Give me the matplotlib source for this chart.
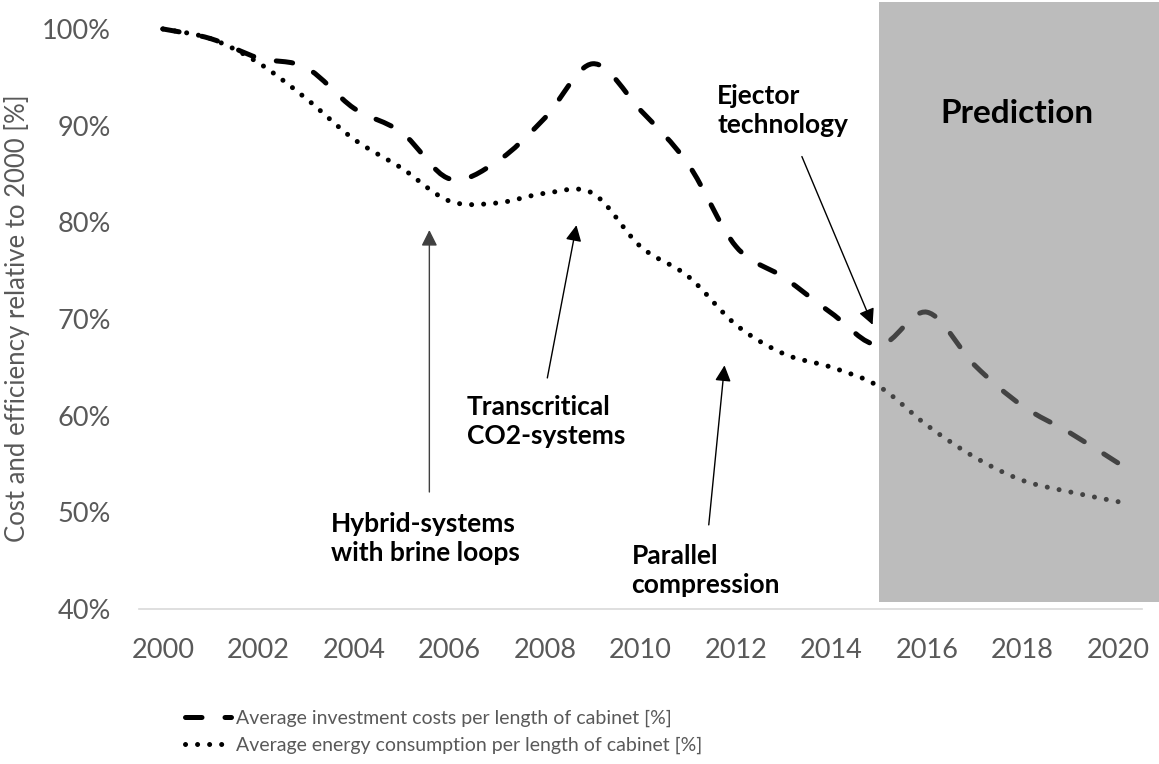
import numpy as np
import matplotlib
matplotlib.use('Agg')
import matplotlib.pyplot as plt
from matplotlib.path import Path
from matplotlib.patches import PathPatch, Rectangle
from matplotlib.lines import Line2D

plt.rcParams['font.family'] = ['Lato', 'DejaVu Sans']

# Dane
years = np.arange(2000, 2021)
investment = [100, 99, 97, 96, 91.8, 89.3, 84.5, 86.3, 90.8, 96.4, 91.6, 86.0,
              77.5, 74.3, 70.6, 67.3, 70.7, 65.2, 61.0, 58.2, 55.1]
energy = [100, 99, 96.5, 92.8, 88.6, 85.6, 82.2, 82.0, 83.0, 83.0, 77.5, 74.4,
          69.4, 66.4, 65.0, 63.0, 59.0, 55.7, 53.3, 52.1, 51.1]
prediction_start = 2015
yticks = [40, 50, 60, 70, 80, 90, 100]
legend_labels = ['Average investment costs per length of cabinet [%]',
                 'Average energy consumption per length of cabinet [%]']

grey = '#595959'


def smooth_path(x, y):
    # krzywa Beziera jak "wygładzona linia" w Excelu
    pts = np.column_stack([x, y]).astype(float)
    n = len(pts)
    verts = [pts[0]]
    codes = [Path.MOVETO]
    for i in range(n - 1):
        p0 = pts[i - 1] if i > 0 else pts[i]
        p1 = pts[i]
        p2 = pts[i + 1]
        p3 = pts[i + 2] if i + 2 < n else pts[i + 1]
        verts += [p1 + (p2 - p0) / 6, p2 - (p3 - p1) / 6, p2]
        codes += [Path.CURVE4] * 3
    return Path(verts, codes)


fig = plt.figure(figsize=(11.59, 7.64), dpi=100)
ax = fig.add_axes([0.1199, 0.2029, 0.8654, 0.7592])

dash_ls = (0, (3.3, 4.6))
dot_ls = (0, (0.01, 2.4))

ax.add_patch(PathPatch(smooth_path(years, investment), fill=False, clip_on=False,
                       zorder=3, lw=3.6, ls=dash_ls, capstyle='round', color='black'))
ax.add_patch(PathPatch(smooth_path(years, energy), fill=False, clip_on=False,
                       zorder=3, lw=3.6, ls=dot_ls, capstyle='round', color='black'))

# obszar prognozy
ax.add_patch(Rectangle((prediction_start, 40.72), 5.86, 62.1, facecolor='#818181',
                       alpha=0.525, edgecolor='none', clip_on=False, zorder=4))
ax.text(2017.88, 91.3, 'Prediction', fontsize=24, fontweight='bold',
        ha='center', va='center', zorder=5)

ax.set_xlim(1999.5, 2020.5)
ax.set_ylim(40, 100)
ax.set_xticks(years[::2])
ax.set_yticks(yticks)
ax.set_yticklabels([f'{v}%' for v in yticks])
ax.tick_params(length=0, labelsize=19.5, colors=grey)
ax.tick_params(axis='x', pad=21)
ax.tick_params(axis='y', pad=20)
for s in ['top', 'right', 'left']:
    ax.spines[s].set_visible(False)
ax.spines['bottom'].set_color('#d9d9d9')
ax.spines['bottom'].set_linewidth(1.2)

fig.text(17 / 1159, 1 - 318 / 764, 'Cost and efficiency relative to 2000 [%]',
         rotation=90, ha='center', va='center', fontsize=18.5, color=grey)

# adnotacje
ann = dict(fontsize=19, fontweight='bold', ha='left', va='center', linespacing=1.25)
arrow = dict(arrowstyle='-|>', lw=1.0, color='black', mutation_scale=24,
             shrinkA=0, shrinkB=0)
ax.annotate('', xy=(2005.58, 79.2), xytext=(2005.58, 52.1),
            arrowprops=dict(arrow, color='#404040'))
ax.text(2003.52, 47.3, 'Hybrid-systems\nwith brine loops', **ann)
ax.annotate('', xy=(2008.66, 79.7), xytext=(2008.05, 63.9), arrowprops=arrow)
ax.text(2006.37, 59.4, 'Transcritical\nCO2-systems', **ann)
ax.annotate('', xy=(2011.76, 65.2), xytext=(2011.43, 48.7), arrowprops=arrow)
ax.text(2009.81, 44.0, 'Parallel\ncompression', **ann)
ax.annotate('', xy=(2014.86, 69.4), xytext=(2013.38, 86.8), arrowprops=arrow)
ax.text(2011.61, 91.6, 'Ejector\ntechnology', **ann)

handles = [Line2D([], [], lw=3.6, ls=dash_ls, dash_capstyle='round', color='black'),
           Line2D([], [], lw=3.6, ls=dot_ls, dash_capstyle='round', color='black')]
fig.legend(handles, legend_labels, loc='upper left',
           bbox_to_anchor=(185 / 1159, 1 - 710 / 764),
           frameon=False, handlelength=2.35, handletextpad=0.25, labelspacing=0.5,
           borderpad=0, borderaxespad=0, fontsize=14, labelcolor=grey)

fig.savefig('out.png', dpi=100)
